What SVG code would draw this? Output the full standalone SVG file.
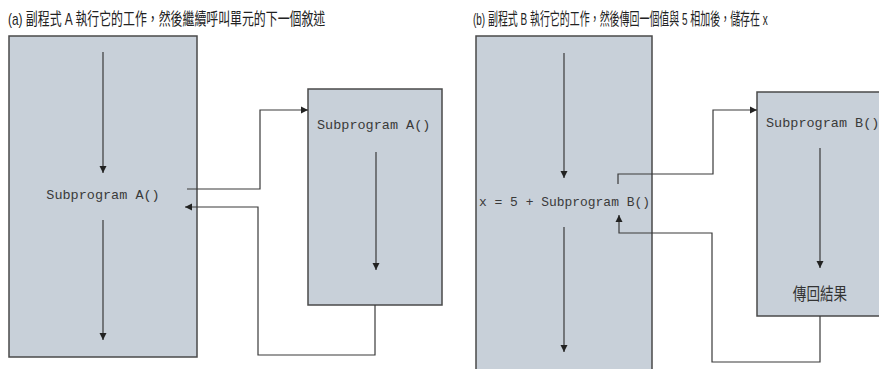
<svg xmlns="http://www.w3.org/2000/svg" width="879" height="369" viewBox="0 0 879 369">
<style>
.box{fill:#c8d0d9;stroke:#4a4a4a;stroke-width:1.5}
.ln{fill:none;stroke:#3a3a3a;stroke-width:1.2}
.code{font-family:"Liberation Mono","Courier New",monospace;font-size:13.5px;fill:#3a3a3a}
.title{font-family:"Liberation Sans","Noto Sans CJK TC",sans-serif;font-size:17px;fill:#222}
.cjk{font-family:"Noto Sans CJK TC","Liberation Sans",sans-serif;font-size:17px;fill:#333}
</style>
<defs>
<marker id="ah" viewBox="0 0 10 10" refX="10" refY="5" markerWidth="7" markerHeight="9" markerUnits="userSpaceOnUse" orient="auto">
<path d="M0,0 L10,5 L0,10 z" fill="#222"/>
</marker>
</defs>
<g id="titles">
<text class="title" transform="translate(8,25) scale(0.75,1)" x="0" y="0" textLength="423" lengthAdjust="spacingAndGlyphs">(a) 副程式 A 執行它的工作，然後繼續呼叫單元的下一個敘述</text>
<text class="title" transform="translate(473,25) scale(0.75,1)" x="0" y="0" textLength="393" lengthAdjust="spacingAndGlyphs">(b) 副程式 B 執行它的工作，然後傳回一個值與 5 相加後，儲存在 x</text>
</g>
<g id="mainA">
<rect class="box" x="9" y="36" width="188" height="321"/>
<line class="ln" x1="103" y1="52" x2="103" y2="173" marker-end="url(#ah)"/>
<text class="code" x="103" y="199" text-anchor="middle">Subprogram A()</text>
<line class="ln" x1="103" y1="220" x2="103" y2="340" marker-end="url(#ah)"/>
</g>
<g id="subA">
<rect class="box" x="308" y="89" width="134" height="216"/>
<text class="code" x="317" y="129">Subprogram A()</text>
<line class="ln" x1="376" y1="152" x2="376" y2="270" marker-end="url(#ah)"/>
</g>
<g id="mainB">
<rect class="box" x="476" y="36" width="176" height="340"/>
<line class="ln" x1="564" y1="53" x2="564" y2="178" marker-end="url(#ah)"/>
<text class="code" x="479" y="206" textLength="171" lengthAdjust="spacingAndGlyphs">x = 5 + Subprogram B()</text>
<line class="ln" x1="564" y1="227" x2="564" y2="352" marker-end="url(#ah)"/>
</g>
<g id="subB">
<rect class="box" x="757" y="92" width="125" height="224"/>
<text class="code" x="766" y="127">Subprogram B()</text>
<line class="ln" x1="820" y1="148" x2="820" y2="268" marker-end="url(#ah)"/>
<text class="cjk" transform="translate(820,300) scale(0.8,1)" x="0" y="0" text-anchor="middle">傳回結果</text>
</g>
<g id="connectors">
<polyline class="ln" points="187,189 260,189 260,110 308,110" marker-end="url(#ah)"/>
<polyline class="ln" points="375,305 375,355 258,355 258,207 185,207" marker-end="url(#ah)"/>
<polyline class="ln" points="618,184 618,174 713,174 713,110 757,110" marker-end="url(#ah)"/>
<polyline class="ln" points="820,316 820,362 712,362 712,233 619,233 619,215" marker-end="url(#ah)"/>
</g>
</svg>
